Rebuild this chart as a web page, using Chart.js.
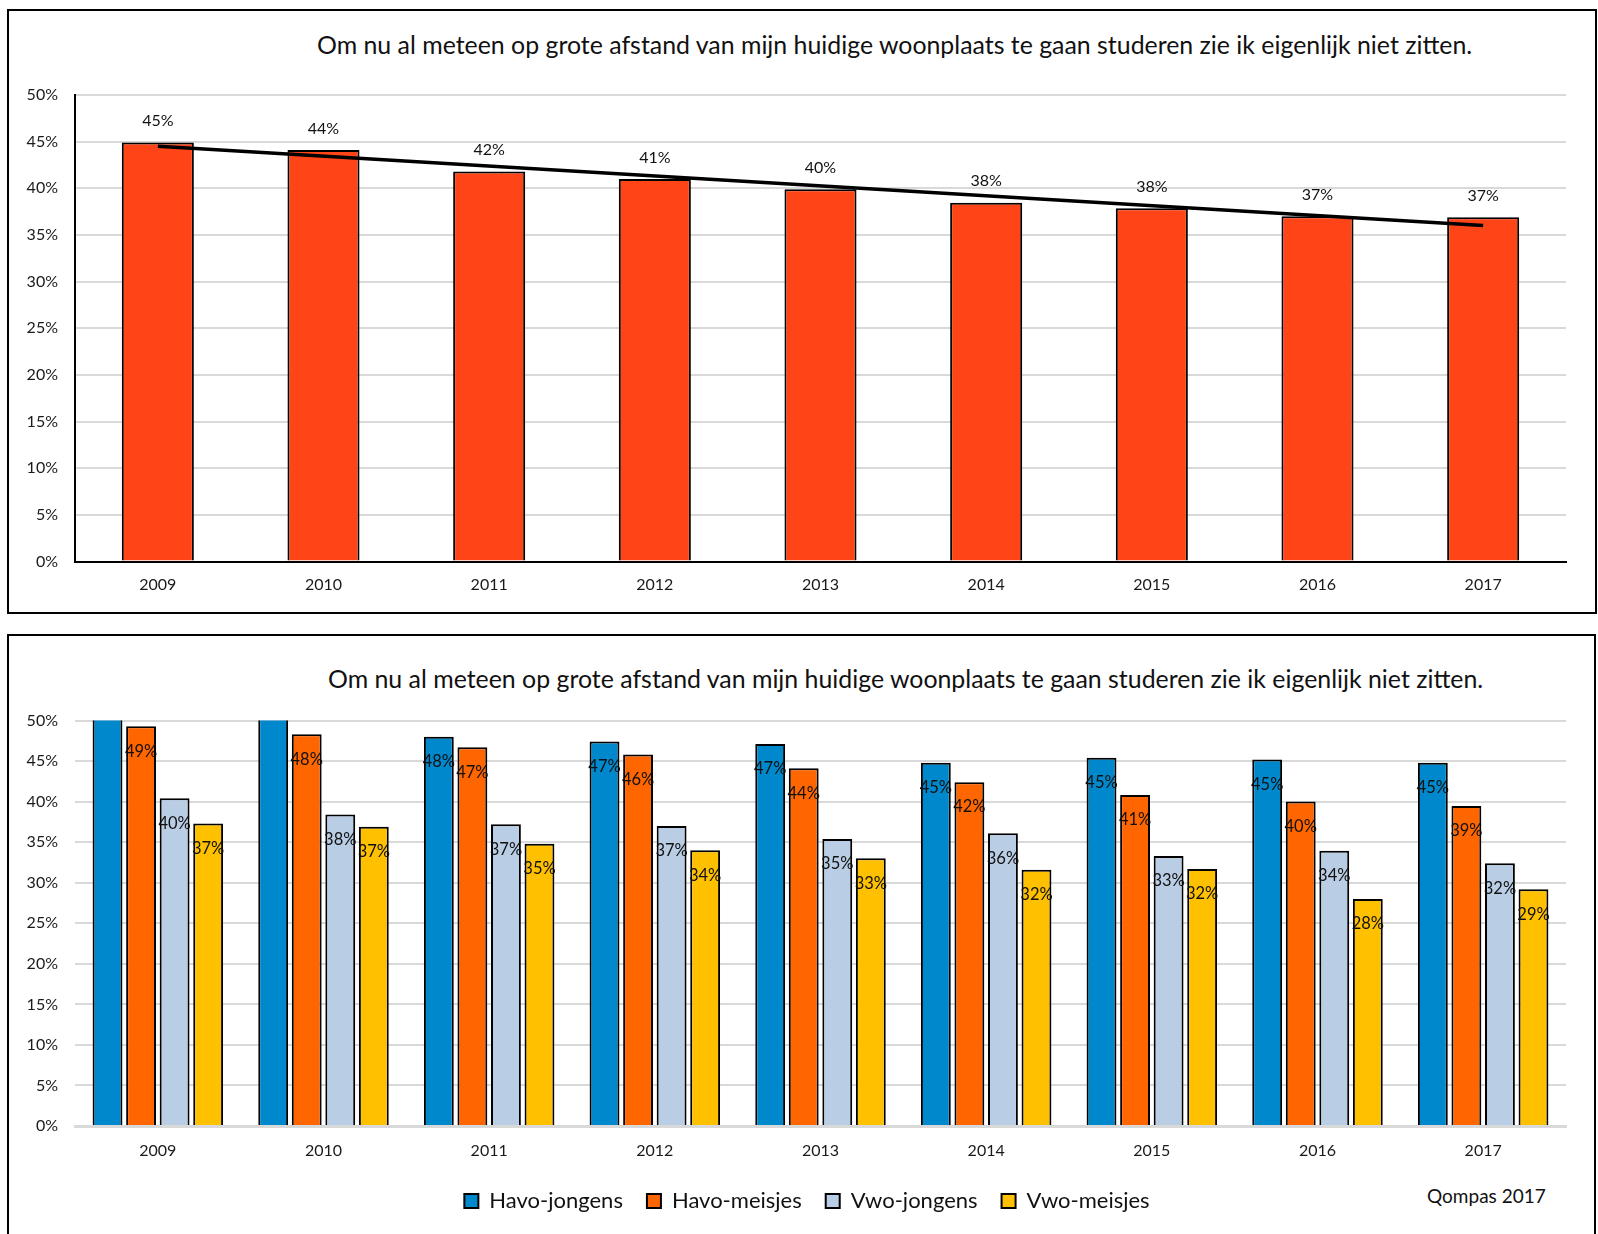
<!DOCTYPE html>
<html>
<head>
<meta charset="utf-8">
<script src="https://cdn.jsdelivr.net/npm/chart.js@4.4.1/dist/chart.umd.min.js"></script>
<style>
  html, body { margin: 0; padding: 0; background: #fff; }
  body { width: 1598px; height: 1234px; overflow: hidden; position: relative; font-family: Lato, "Open Sans", sans-serif; }
  .panel { position: absolute; border: 2px solid #000; box-sizing: border-box; }
  #panel1 { left: 7px; top: 9px; width: 1590px; height: 605px; }
  #panel2 { left: 7px; top: 634px; width: 1589px; height: 640px; }
  canvas { position: absolute; }
  #c1 { left: 10px; top: 12px; }
  #c2 { left: 10px; top: 637px; }
  .title { position: absolute; white-space: nowrap; color: #111; height: 40px; line-height: 40px; font-family: Lato, sans-serif; }
  #t1 { left: 317px; top: 24px; }
  #t2 { left: 328px; top: 658px; }
  #src { position: absolute; left: 1427px; top: 1183px; height: 26px; line-height: 26px; font-size: 19px; color: #111; white-space: nowrap; font-family: Lato, sans-serif; }
</style>
</head>
<body>
<div class="panel" id="panel1"></div>
<div class="panel" id="panel2"></div>
<div class="title" id="t1">Om nu al meteen op grote afstand van mijn huidige woonplaats te gaan studeren zie ik eigenlijk niet zitten.</div>
<div class="title" id="t2">Om nu al meteen op grote afstand van mijn huidige woonplaats te gaan studeren zie ik eigenlijk niet zitten.</div>
<div id="src">Qompas 2017</div>
<canvas id="c1" width="1584" height="599"></canvas>
<canvas id="c2" width="1583" height="597"></canvas>
<script>
// ---- data ----
const years = ['2009', '2010', '2011', '2012', '2013', '2014', '2015', '2016', '2017'];
const totalShares = [44.9, 44.1, 41.8, 41.0, 39.9, 38.45, 37.85, 37.0, 36.9];
const trendStart = 44.5;
const trendEnd = 36.0;
const seriesNames = ['Havo-jongens', 'Havo-meisjes', 'Vwo-jongens', 'Vwo-meisjes'];
const havoJongens = [52, 51, 48.0, 47.4, 47.1, 44.8, 45.4, 45.2, 44.8];
const havoMeisjes = [49.3, 48.3, 46.7, 45.8, 44.1, 42.4, 40.8, 40.0, 39.45];
const vwoJongens = [40.4, 38.4, 37.2, 37.0, 35.4, 36.1, 33.3, 33.95, 32.4];
const vwoMeisjes = [37.3, 36.9, 34.8, 34.0, 33.0, 31.6, 31.7, 28.0, 29.2];

// ---- title sizing ----
function fitTitle(id, target) {
  const el = document.getElementById(id);
  const c = document.createElement('canvas').getContext('2d');
  c.font = '100px Lato';
  const w = c.measureText(el.textContent).width;
  el.style.fontSize = (100 * target / w).toFixed(2) + 'px';
}
fitTitle('t1', 1157);
fitTitle('t2', 1157);

Chart.defaults.font.family = 'Lato';
Chart.defaults.font.size = 16;
Chart.defaults.color = '#1a1a1a';

const valueLabels = {
  id: 'valueLabels',
  afterDatasetsDraw(chart, args, opts) {
    const ctx = chart.ctx;
    const yMax = chart.scales.y.max;
    ctx.save();
    ctx.font = (opts.size || 16) + 'px Lato';
    ctx.fillStyle = '#111';
    ctx.textAlign = 'center';
    ctx.textBaseline = 'middle';
    chart.data.datasets.forEach((ds, i) => {
      if (ds.type === 'line') return;
      const meta = chart.getDatasetMeta(i);
      meta.data.forEach((el, j) => {
        const v = ds.data[j];
        if (v == null || v > yMax) return;
        const y = opts.inside ? el.y + opts.offset : el.y - opts.offset;
        ctx.fillText(Math.round(v) + '%', el.x, y);
      });
    });
    ctx.restore();
  }
};

// shifts the legend box sideways after layout
const legendShift = {
  id: 'legendShift',
  afterLayout(chart, args, opts) {
    if (chart.legend && opts.dx) {
      chart.legend.left += opts.dx;
      chart.legend.right += opts.dx;
    }
  }
};

function yScale(borderOpts) {
  return {
    min: 0, max: 50,
    ticks: { stepSize: 5, padding: 17, callback: v => v + '%', font: { size: 16 } },
    grid: { color: '#d9d9d9', lineWidth: 2, drawTicks: false },
    border: borderOpts,
    afterFit: s => { s.width = 65; }
  };
}

// ---- top chart ----
const trendData = years.map((y, i) => i === 0 ? trendStart : (i === years.length - 1 ? trendEnd : null));
new Chart(document.getElementById('c1'), {
  type: 'bar',
  data: {
    labels: years,
    datasets: [
      {
        type: 'line', label: 'Trend', data: trendData, spanGaps: true,
        borderColor: '#000', borderWidth: 3.5, pointRadius: 0, fill: false, order: 0
      },
      {
        label: 'Totaal', data: totalShares, backgroundColor: '#FF4518',
        borderColor: '#000', borderWidth: 2, categoryPercentage: 1, barPercentage: 0.435, order: 1
      }
    ]
  },
  options: {
    responsive: false, animation: false,
    layout: { padding: { top: 83, right: 28, bottom: 0, left: 0 } },
    plugins: { legend: { display: false }, title: { display: false }, tooltip: { enabled: false },
      valueLabels: { inside: false, offset: 21.6, size: 16 } },
    scales: {
      x: { grid: { display: false, drawTicks: false }, border: { color: '#000', width: 2 },
        ticks: { padding: 14, font: { size: 16 } }, afterFit: s => { s.height = 49.5; } },
      y: yScale({ color: '#000', width: 2 })
    }
  },
  plugins: [valueLabels]
});

// ---- bottom chart ----
const colors = ['#0088CC', '#FF6600', '#B9CDE5', '#FFC000'];
const groupData = [havoJongens, havoMeisjes, vwoJongens, vwoMeisjes];
new Chart(document.getElementById('c2'), {
  type: 'bar',
  data: {
    labels: years,
    datasets: seriesNames.map((name, i) => ({
      label: name, data: groupData[i], backgroundColor: colors[i],
      borderColor: '#000', borderWidth: 2, categoryPercentage: 0.81, barPercentage: 0.89
    }))
  },
  options: {
    responsive: false, animation: false,
    layout: { padding: { top: 83.5, right: 27, bottom: 12, left: 0 } },
    plugins: {
      title: { display: false }, tooltip: { enabled: false },
      legend: {
        position: 'bottom',
        labels: { boxWidth: 14, boxHeight: 14, padding: 24, font: { size: 22 }, color: '#111' }
      },
      legendShift: { dx: 19 },
      valueLabels: { inside: true, offset: 25, size: 16.5 }
    },
    scales: {
      x: { grid: { display: false, drawTicks: false }, border: { color: '#d9d9d9', width: 3 },
        ticks: { padding: 15, font: { size: 16 } }, afterFit: s => { s.height = 40; } },
      y: yScale({ display: false })
    }
  },
  plugins: [valueLabels, legendShift]
});
</script>
</body>
</html>
